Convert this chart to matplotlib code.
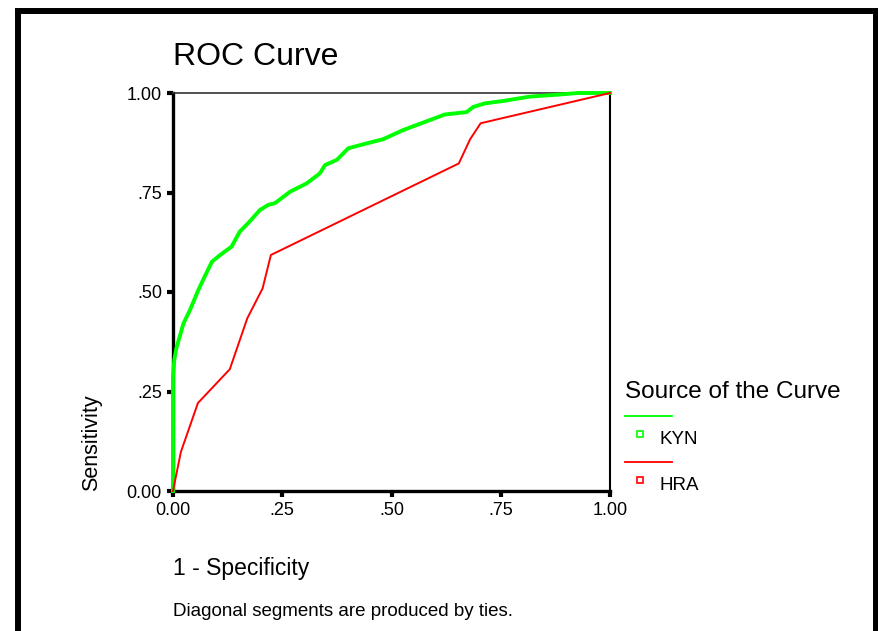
import matplotlib.pyplot as plt
from matplotlib.lines import Line2D

plt.rcParams['font.family'] = ['Liberation Sans', 'DejaVu Sans']

# ROC curve points (1 - specificity, sensitivity)
kyn_fpr = [0.0, 0.0, 0.003, 0.008, 0.024, 0.039, 0.058, 0.073, 0.089, 0.108,
           0.134, 0.153, 0.172, 0.199, 0.218, 0.233, 0.268, 0.306, 0.336,
           0.348, 0.375, 0.401, 0.428, 0.481, 0.527, 0.588, 0.622, 0.672,
           0.687, 0.714, 0.756, 0.817, 0.870, 0.927, 1.0]
kyn_tpr = [0.0, 0.287, 0.33, 0.36, 0.421, 0.455, 0.505, 0.540, 0.576, 0.593,
           0.614, 0.652, 0.673, 0.706, 0.719, 0.723, 0.752, 0.773, 0.798,
           0.819, 0.832, 0.861, 0.869, 0.884, 0.907, 0.932, 0.946, 0.952,
           0.965, 0.974, 0.980, 0.991, 0.995, 1.0, 1.0]

hra_fpr = [0.0, 0.018, 0.057, 0.130, 0.170, 0.205, 0.224, 0.654, 0.680, 0.704, 1.0]
hra_tpr = [0.0, 0.098, 0.221, 0.306, 0.434, 0.509, 0.593, 0.823, 0.884, 0.924, 1.0]

ticks = [0.0, 0.25, 0.5, 0.75, 1.0]
tick_labels = ['0.00', '.25', '.50', '.75', '1.00']

W, H = 879, 631
fig = plt.figure(figsize=(W / 100, H / 100), dpi=100)
ax = fig.add_axes([173 / W, 1 - 491 / H, 437 / W, 398 / H])

ax.plot(kyn_fpr, kyn_tpr, color='#00ff00', lw=2.8, clip_on=False, zorder=3)
ax.plot(hra_fpr, hra_tpr, color='#ff0000', lw=1.4, clip_on=False, zorder=4)

ax.set_xlim(0, 1)
ax.set_ylim(0, 1)
ax.set_xticks(ticks)
ax.set_xticklabels(tick_labels)
ax.set_yticks(ticks)
ax.set_yticklabels(tick_labels)
ax.tick_params(direction='out', length=4, width=3, labelsize=13, pad=4)

ax.spines['left'].set_linewidth(2.4)
ax.spines['bottom'].set_linewidth(2.4)
ax.spines['top'].set_linewidth(1.2)
ax.spines['top'].set_color('#333333')
ax.spines['right'].set_linewidth(1.5)

# titles and labels
fig.text(173 / W, 1 - 57 / H, 'ROC Curve', fontsize=23, va='center', ha='left')
fig.text(92 / W, 1 - 491 / H, 'Sensitivity', fontsize=15.5, rotation=90,
         ha='center', va='bottom')
fig.text(173 / W, 1 - 568 / H, '1 - Specificity', fontsize=16.5, va='center', ha='left')
fig.text(173 / W, 1 - 611 / H, 'Diagonal segments are produced by ties.',
         fontsize=13.5, va='center', ha='left')

# legend drawn by hand
fig.text(625 / W, 1 - 392 / H, 'Source of the Curve', fontsize=17.5,
         va='center', ha='left')
for name, col, y in [('KYN', '#00ff00', 416), ('HRA', '#ff0000', 462)]:
    fig.add_artist(Line2D([625 / W, 672 / W], [1 - y / H, 1 - y / H],
                          color=col, lw=1.3, transform=fig.transFigure))
    fig.add_artist(Line2D([640 / W], [1 - (y + 18) / H], marker='s', ms=5,
                          mfc='white', mec=col, mew=1.2, ls='none',
                          transform=fig.transFigure))
    fig.text(660 / W, 1 - (y + 23) / H, name, fontsize=13.5, va='center', ha='left')

# heavy frame around the chart
frame = dict(color='black', lw=4.3, transform=fig.transFigure, solid_capstyle='projecting')
fig.add_artist(Line2D([18 / W, 18 / W], [0, 1 - 11 / H], **frame))
fig.add_artist(Line2D([18 / W, 876 / W], [1 - 11 / H, 1 - 11 / H], **frame))
fig.add_artist(Line2D([876 / W, 876 / W], [0, 1 - 11 / H], **frame))

fig.savefig('out.png', dpi=100)
